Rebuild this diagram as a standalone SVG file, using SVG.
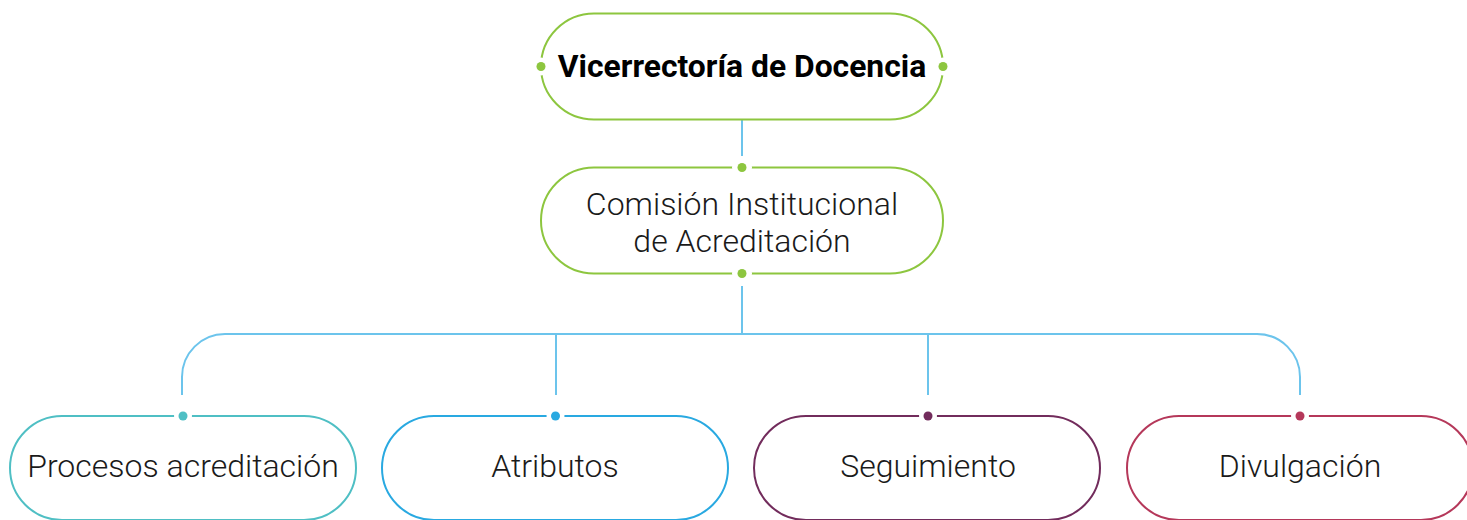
<svg xmlns="http://www.w3.org/2000/svg" width="1467" height="520" viewBox="0 0 1467 520">
<style>
.conn{fill:none;stroke:#6cc4ec;stroke-width:2}
.node{fill:#fff;stroke-width:2}
.halo{fill:#fff}
.lbl{font-family:Roboto,"Liberation Sans",sans-serif;font-size:32px;font-weight:300;fill:#1a1a1a;text-anchor:middle}
.title{font-family:Roboto,"Liberation Sans",sans-serif;font-size:31.8px;font-weight:700;fill:#000;text-anchor:middle}
</style>
<rect width="1467" height="520" fill="#fff"/>
<g id="connectors">
<line class="conn" x1="742" y1="120" x2="742" y2="156"/>
<line class="conn" x1="742" y1="286" x2="742" y2="334"/>
<path class="conn" d="M182,395 V377 A43,43 0 0 1 225,334 H1257 A43,43 0 0 1 1300,377 V395"/>
<line class="conn" x1="556" y1="334" x2="556" y2="395"/>
<line class="conn" x1="928" y1="334" x2="928" y2="395"/>
</g>
<g id="vicerrectoria">
<rect class="node" x="541" y="13.5" width="402" height="106" rx="53" stroke="#8dc63f"/>
<circle class="halo" cx="541" cy="66.5" r="9"/>
<circle class="halo" cx="943" cy="66.5" r="9"/>
<circle cx="541" cy="66.5" r="4.5" fill="#8dc63f"/>
<circle cx="943" cy="66.5" r="4.5" fill="#8dc63f"/>
<text class="title" x="742" y="77">Vicerrectoría de Docencia</text>
</g>
<g id="comision">
<rect class="node" x="541" y="167.5" width="402" height="106" rx="53" stroke="#8dc63f"/>
<circle class="halo" cx="742" cy="167.5" r="10"/>
<circle class="halo" cx="742" cy="273.5" r="10"/>
<circle cx="742" cy="167.5" r="4.5" fill="#8dc63f"/>
<circle cx="742" cy="273.5" r="4.5" fill="#8dc63f"/>
<text class="lbl" x="742" y="215">Comisión Institucional</text>
<text class="lbl" x="742" y="252">de Acreditación</text>
</g>
<g id="procesos">
<rect class="node" x="10" y="416" width="346" height="104" rx="52" stroke="#4fbfc4"/>
<circle class="halo" cx="183" cy="416" r="9"/>
<circle cx="183" cy="416" r="4.5" fill="#4fbfc4"/>
<text class="lbl" x="183" y="477">Procesos acreditación</text>
</g>
<g id="atributos">
<rect class="node" x="382" y="416" width="346" height="104" rx="52" stroke="#29a9e1"/>
<circle class="halo" cx="555.5" cy="416" r="9"/>
<circle cx="555.5" cy="416" r="4.5" fill="#29a9e1"/>
<text class="lbl" x="555" y="477">Atributos</text>
</g>
<g id="seguimiento">
<rect class="node" x="754" y="416" width="346" height="104" rx="52" stroke="#722c5c"/>
<circle class="halo" cx="928" cy="416" r="9"/>
<circle cx="928" cy="416" r="4.5" fill="#722c5c"/>
<text class="lbl" x="928" y="477">Seguimiento</text>
</g>
<g id="divulgacion">
<rect class="node" x="1127" y="416" width="346" height="104" rx="52" stroke="#b5385a"/>
<circle class="halo" cx="1300" cy="416" r="9"/>
<circle cx="1300" cy="416" r="4.5" fill="#b5385a"/>
<text class="lbl" x="1300" y="477">Divulgación</text>
</g>
</svg>
